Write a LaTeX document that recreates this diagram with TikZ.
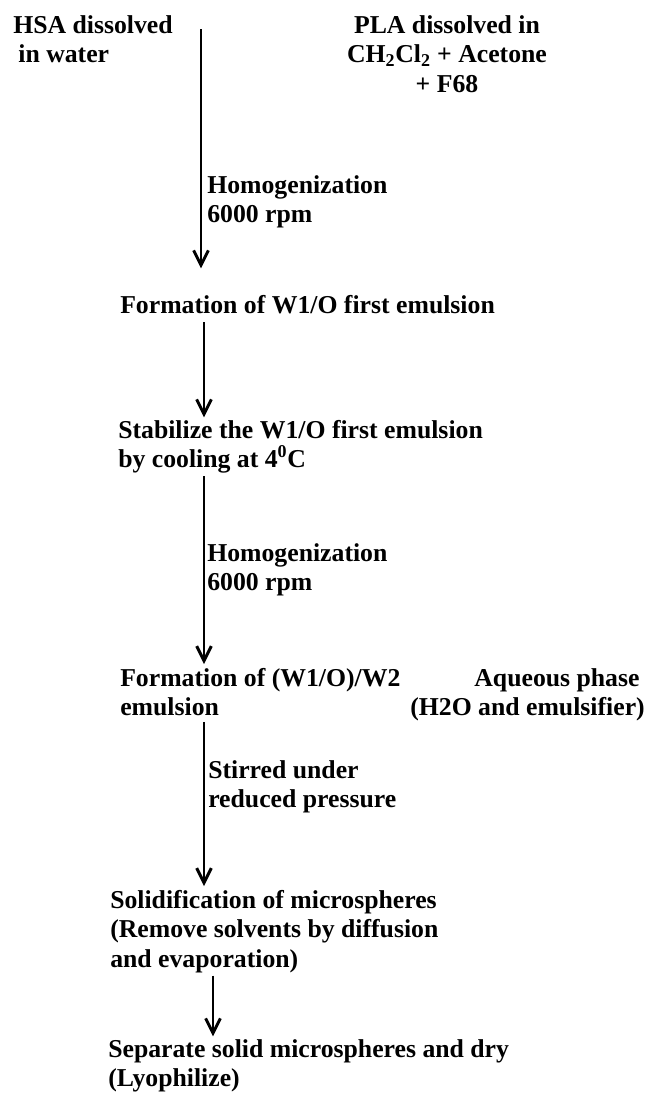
\documentclass[tikz,border=0pt]{standalone}
\usepackage{fontspec}
\setmainfont{Liberation Serif}
\usetikzlibrary{arrows.meta}

\begin{document}
\begin{tikzpicture}[x=0.75pt,y=-0.75pt,
  stage/.style={inner sep=0pt,align=left,anchor=north west,
    font=\fontsize{19.3}{22.1}\selectfont\bfseries},
  flow/.style={line width=1.6pt,
    -{Straight Barb[length=11pt,width=11pt,line width=2.2pt]}}]
\useasboundingbox (0,0) rectangle (648,1093);

% starting solutions
\node[stage] (hsa) at (13,15) {HSA dissolved\\\hspace*{0.2em}in water};
\node[stage,align=center,anchor=north] (pla) at (447,15)
  {PLA dissolved in\\CH\textsubscript{2}Cl\textsubscript{2} + Acetone\\+ F68};

% steps of the double emulsion
\node[stage] (form1) at (120,295) {Formation of W1/O first emulsion};
\node[stage] (stab) at (118,420) {Stabilize the W1/O first emulsion\\by cooling at 4\textsuperscript{0}C};
\node[stage] (form2) at (120,668) {Formation of (W1/O)/W2\\emulsion};
\node[stage,align=right,anchor=north east] (aq) at (645,668) {Aqueous phase\hspace*{0.2em}\\(H2O and emulsifier)};
\node[stage] (solid) at (110,890) {Solidification of microspheres\\(Remove solvents by diffusion\\and evaporation)};
\node[stage] (sep) at (108,1039) {Separate solid microspheres and dry\\(Lyophilize)};

% conditions beside the arrows
\node[stage] (homog1) at (207,175) {Homogenization\\6000 rpm};
\node[stage] (homog2) at (207,543) {Homogenization\\6000 rpm};
\node[stage] (stir) at (208,760) {Stirred under\\reduced pressure};

% arrows
\coordinate (top) at (201,29);
\coordinate (col) at (204,0);
\coordinate (col2) at (213,0);
\draw[flow] (top) -- ([yshift=20pt]top |- form1.north);
\draw[flow] ([yshift=-6pt]form1.south -| col) -- ([yshift=2pt]stab.north -| col);
\draw[flow] ([yshift=-2pt]stab.south -| col) -- ([yshift=3pt]form2.north -| col);
\draw[flow] ([yshift=-4pt]form2.south -| col) -- ([yshift=3pt]solid.north -| col);
\draw[flow] ([yshift=-2pt]solid.south -| col2) -- ([yshift=2pt]sep.north -| col2);
\end{tikzpicture}
\end{document}
